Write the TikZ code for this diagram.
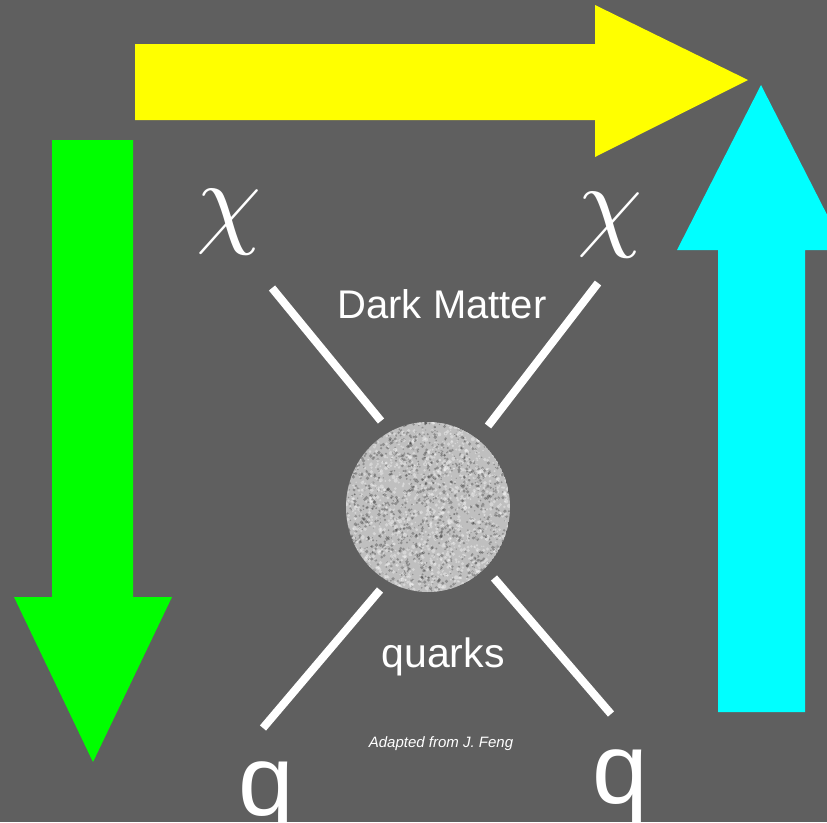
\documentclass[tikz,border=0pt]{standalone}
\usepackage{fontspec}
\setmainfont{Liberation Sans}
\definecolor{bgc}{RGB}{95,95,95}
\definecolor{yel}{RGB}{255,255,0}
\definecolor{grn}{RGB}{0,255,0}
\definecolor{cyn}{RGB}{0,255,255}
\begin{document}
\begin{tikzpicture}[x=1pt,y=-1pt,
  leg/.style={draw=white,line width=8pt,line cap=butt},
  lbl/.style={text=white,inner sep=0pt,anchor=center},
  chisym/.style={text=white,inner sep=0pt},
  qsym/.style={text=white,inner sep=0pt,font=\fontsize{100}{100}\selectfont}]
\useasboundingbox (0,0) rectangle (827,822);
\clip (0,0) rectangle (827,822);
\fill[bgc] (0,0) rectangle (827,822);
% yellow arrow
\fill[yel] (135,44) -- (595,44) -- (595,5) -- (748,80) -- (595,157) -- (595,120) -- (135,120) -- cycle;
% green arrow
\fill[grn] (52,140) -- (133,140) -- (133,597) -- (172,597) -- (93,762) -- (14,597) -- (52,597) -- cycle;
% cyan arrow
\fill[cyn] (718,712) -- (805,712) -- (805,250) -- (845,250) -- (761,85) -- (677,250) -- (718,250) -- cycle;
% blob
\coordinate (blob) at (428,507);
\begin{scope}
\clip (blob) ellipse [x radius=82, y radius=85];
\fill[black!25] (blob) ellipse [x radius=82, y radius=85];
\pgfmathsetseed{11}
\foreach \i in {1,...,1400}{
  \fill[black!80,opacity=0.35] ({346+164*rnd},{422+170*rnd}) circle [radius={0.6+1.3*rnd}];
}
\foreach \i in {1,...,1400}{
  \fill[white,opacity=0.35] ({346+164*rnd},{422+170*rnd}) circle [radius={0.6+1.5*rnd}];
}
\end{scope}
% legs
\coordinate (a1) at (272,288); \coordinate (a2) at (381,421);
\coordinate (b1) at (598,283); \coordinate (b2) at (488,426);
\coordinate (c1) at (380,590); \coordinate (c2) at (263,728);
\coordinate (d1) at (494,578); \coordinate (d2) at (611,714);
\draw[leg] (a1) -- (a2);
\draw[leg] (b1) -- (b2);
\draw[leg] (c1) -- (c2);
\draw[leg] (d1) -- (d2);
% labels
\node[chisym] (chi1) at (229,222) {\resizebox*{!}{65pt}{$\chi$}};
\node[chisym] (chi2) at (610,225) {\resizebox*{!}{65pt}{$\chi$}};
\node[lbl,font=\fontsize{40}{40}\selectfont] (dm) at (442,304) {Dark Matter};
\node[lbl,font=\fontsize{41}{41}\selectfont] (qk) at (443,657) {quarks};
\node[lbl,font=\fontsize{15}{15}\selectfont\itshape] (cred) at (441,744) {Adapted from J. Feng};
\node[qsym,anchor=base] (q1) at (266,815) {q};
\node[qsym,anchor=base] (q2) at (620,803) {q};
\end{tikzpicture}
\end{document}
